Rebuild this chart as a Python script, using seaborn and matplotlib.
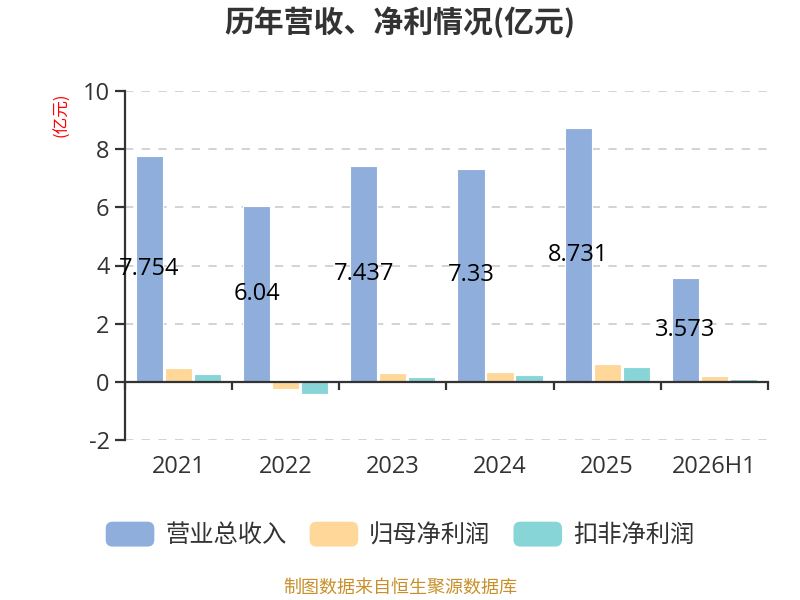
import matplotlib
matplotlib.use("Agg")
import matplotlib.pyplot as plt
import seaborn as sns
import pandas as pd
from matplotlib.patches import FancyBboxPatch, Patch
from matplotlib.legend_handler import HandlerPatch

years = ["2021", "2022", "2023", "2024", "2025", "2026H1"]
series_names = ["营业总收入", "归母净利润", "扣非净利润"]
revenue = [7.754, 6.04, 7.437, 7.33, 8.731, 3.573]
net_profit = [0.46, -0.24, 0.29, 0.34, 0.60, 0.19]
deducted_profit = [0.26, -0.42, 0.17, 0.23, 0.51, 0.11]
revenue_labels = ["7.754", "6.04", "7.437", "7.33", "8.731", "3.573"]
colors = ["#8FAEDB", "#FFD899", "#88D5D8"]

rows = []
for name, vals in zip(series_names, [revenue, net_profit, deducted_profit]):
    for y, v in zip(years, vals):
        rows.append({"year": y, "series": name, "value": v})
df = pd.DataFrame(rows)

sns.set_theme(style="white")
plt.rcParams["font.family"] = ["Open Sans", "Noto Sans CJK SC", "DejaVu Sans"]
plt.rcParams["axes.unicode_minus"] = False
CJK = ["Noto Sans CJK SC", "DejaVu Sans"]

fig = plt.figure(figsize=(8, 6), dpi=100)
ax = fig.add_axes([0.156, 0.2667, 0.804, 0.5816])

sns.barplot(data=df, x="year", y="value", hue="series", palette=colors,
            saturation=1, width=0.81, gap=0.06, edgecolor="white", linewidth=0.8,
            legend=False, ax=ax, zorder=3)

ax.set_xlim(-0.5, len(years) - 0.5)
ax.set_ylim(-2, 10)
ax.set_yticks([-2, 0, 2, 4, 6, 8, 10])
for yv in [-2, 2, 4, 6, 8, 10]:
    ax.axhline(yv, color="#CCCCCC", linestyle=(0, (5, 5)), linewidth=1.2, zorder=1)

for s in ["top", "right"]:
    ax.spines[s].set_visible(False)
ax.spines["bottom"].set_position(("data", 0))
ax.spines["bottom"].set_color("#333333")
ax.spines["bottom"].set_linewidth(1.6)
ax.spines["bottom"].set_zorder(5)
ax.spines["left"].set_color("#333333")
ax.spines["left"].set_linewidth(1.6)

ax.set_xticks(range(len(years)))
ax.set_xticklabels(years)
ax.set_xticks([i - 0.5 for i in range(len(years) + 1)], minor=True)
ax.tick_params(axis="x", which="major", bottom=True, length=0, pad=53, labelsize=17,
               labelcolor="#333333")
ax.tick_params(axis="x", which="minor", bottom=True, length=6, width=1.6,
               color="#333333", direction="out")
ax.tick_params(axis="y", which="major", length=7, width=1.6, color="#333333",
               direction="out", labelsize=17, labelcolor="#333333", left=True, pad=4)
ax.set_xlabel("")
ax.set_ylabel("")

for i, (v, lab) in enumerate(zip(revenue, revenue_labels)):
    ax.text(i - 0.81 / 3, v / 2, lab, ha="center", va="center", fontsize=17,
            color="black", zorder=6)

fig.text(0.5, 1 - 22 / 600, "历年营收、净利情况(亿元)", ha="center", va="center",
         fontsize=21.5, fontweight="bold", color="#333333", family=CJK)
fig.text(62 / 800, 1 - 115 / 600, "(亿元)", ha="center", va="center",
         rotation=90, fontsize=12, color="red", family=CJK)
fig.text(0.5, 1 - 588 / 600, "制图数据来自恒生聚源数据库", ha="center", va="center",
         fontsize=13, color="#C8902A", family=CJK)


class RoundHandler(HandlerPatch):
    def create_artists(self, legend, orig_handle, xdescent, ydescent, width, height,
                       fontsize, trans):
        p = FancyBboxPatch((-xdescent, -ydescent), width, height,
                           boxstyle="round,pad=0,rounding_size=5",
                           facecolor=orig_handle.get_facecolor(), edgecolor="none",
                           transform=trans)
        return [p]


handles = [Patch(facecolor=c, label=n) for c, n in zip(colors, series_names)]
fig.legend(handles=handles, loc="center", bbox_to_anchor=(0.5, 1 - 535 / 600),
           ncol=3, frameon=False, handlelength=2.0, handleheight=1.2,
           handletextpad=0.45, columnspacing=0.95, labelcolor="#333333",
           prop={"family": CJK, "size": 17.5},
           handler_map={Patch: RoundHandler()})

fig.savefig("out.png", dpi=100)
